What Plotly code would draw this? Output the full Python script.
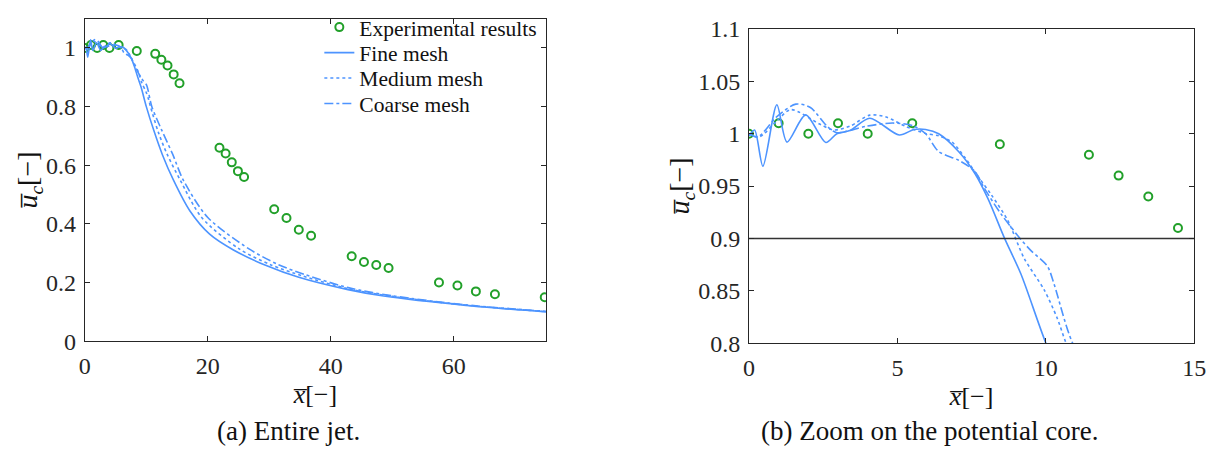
import plotly.graph_objects as go
from plotly.subplots import make_subplots

# ---------------- data ----------------
exp_x = [0, 1, 2, 3, 4, 5.5, 8.45, 11.45, 12.45, 13.45, 14.45, 15.4,
         21.9, 22.9, 23.9, 24.9, 25.9, 30.8, 32.8, 34.8, 36.8,
         43.4, 45.4, 47.4, 49.4, 57.6, 60.6, 63.6, 66.7, 74.8]
exp_y = [1.0, 1.01, 1.0, 1.01, 1.0, 1.01, 0.99, 0.98, 0.96, 0.94, 0.91, 0.88,
         0.66, 0.64, 0.61, 0.58, 0.56, 0.45, 0.42, 0.38, 0.36,
         0.29, 0.27, 0.26, 0.25, 0.20, 0.19, 0.17, 0.16, 0.15]

fine_x = [0, 0.19, 0.47, 0.94, 1.28, 1.91, 2.59, 2.96, 3.4, 4.07, 5.06, 5.56,
          5.95, 6.39, 7.06, 7.61, 8.05, 8.61, 9.16, 10.0, 11.2, 12.6, 14.4,
          17.1, 20.3, 24.1, 29.4, 34.8, 42.8, 48.6, 62.0, 75.0]
fine_y = [0.998, 1.0036, 0.969, 1.0277, 0.992, 1.018, 0.9916, 1.0, 1.003, 1.0148,
          0.9988, 1.004, 1.004, 1.0, 0.983, 0.962, 0.938, 0.9, 0.866, 0.8, 0.72,
          0.637, 0.55, 0.444, 0.365, 0.312, 0.259, 0.218, 0.176, 0.154, 0.122, 0.1]

med_x = [0, 0.35, 0.93, 1.41, 2.41, 2.85, 3.4, 4.07, 4.62, 5.28, 5.95, 6.39,
         6.84, 7.28, 7.72, 8.17, 8.72, 9.27, 9.94, 10.38, 10.68, 12.0, 13.4,
         15.5, 19.0, 25.1, 30.2, 35.5, 43.0, 50.0, 62.0, 75.0]
med_y = [1.0, 0.997, 1.012, 1.023, 1.0088, 1.0036, 1.0072, 1.0178, 1.016, 1.007,
         1.0003, 0.998, 0.992, 0.977, 0.959, 0.9414, 0.917, 0.881, 0.851, 0.824,
         0.8, 0.71, 0.637, 0.55, 0.422, 0.315, 0.261, 0.222, 0.178, 0.153, 0.123, 0.101]

coarse_x = [0, 0.3, 0.93, 1.58, 2.07, 2.63, 2.96, 3.96, 4.84, 5.51, 5.95, 6.39,
            7.06, 7.61, 7.94, 8.5, 9.16, 9.49, 10.05, 10.27, 10.9, 12.5, 14.3,
            16.0, 20.0, 26.7, 31.5, 36.0, 43.0, 50.0, 62.0, 75.0]
coarse_y = [1.0, 0.997, 1.016, 1.0283, 1.025, 1.0072, 1.001, 1.0072, 1.0102, 1.0078,
            1.0, 0.983, 0.9747, 0.964, 0.9473, 0.923, 0.899, 0.8886, 0.8736, 0.857,
            0.8, 0.72, 0.637, 0.55, 0.422, 0.315, 0.261, 0.226, 0.182, 0.155, 0.124, 0.102]

threshold = 0.9

left_yticks = [0, 0.2, 0.4, 0.6, 0.8, 1.0]
left_yticklabels = ["0", "0.2", "0.4", "0.6", "0.8", "1"]
left_xticks = [0, 20, 40, 60]
right_yticks = [0.8, 0.85, 0.9, 0.95, 1.0, 1.05, 1.1]
right_yticklabels = ["0.8", "0.85", "0.9", "0.95", "1", "1.05", "1.1"]
right_xticks = [0, 5, 10, 15]

# ---------------- styling ----------------
BLUE = "#4d94ff"
GREEN = "#22a02a"
AX = "#262626"
FONT = '"Liberation Serif", "Times New Roman", Times, serif'
W, H = 1228, 458

fig = make_subplots(rows=1, cols=2)

series = [
    ("Experimental results", exp_x, exp_y, None, "legend"),
    ("Fine mesh", fine_x, fine_y, "solid", "legend2"),
    ("Medium mesh", med_x, med_y, "dot", "legend3"),
    ("Coarse mesh", coarse_x, coarse_y, "dashdot", "legend4"),
]

for col, show in [(1, True), (2, False)]:
    for name, xs, ys, dash, lg in series:
        if dash is None:
            tr = go.Scatter(x=xs, y=ys, mode="markers", name=name,
                            marker=dict(symbol="circle-open", size=8, color=GREEN,
                                        line=dict(width=2, color=GREEN)),
                            showlegend=show, legend=lg)
        else:
            tr = go.Scatter(x=xs, y=ys, mode="lines", name=name,
                            line=dict(color=BLUE, width=1.6, dash=dash,
                                      shape="spline", smoothing=0.8),
                            showlegend=show, legend=lg)
        fig.add_trace(tr, row=1, col=col)

fig.add_trace(go.Scatter(x=[0, 15], y=[threshold, threshold], mode="lines",
                         line=dict(color="#333333", width=1.6), showlegend=False),
              row=1, col=2)

axis_common = dict(showline=True, linecolor=AX, linewidth=1, mirror="ticks",
                   ticks="inside", ticklen=5, tickcolor=AX, showgrid=False, zeroline=False,
                   ticklabelstandoff=3,
                   tickfont=dict(family=FONT, size=24, color=AX))

xlab = "<i>x\u0305</i>[\u2212]"
ylab = "<i>u\u0305</i><sub><i>c</i></sub>[\u2212]"
xtitle = dict(text=xlab, font=dict(family=FONT, size=26, color="#111111"), standoff=6)

fig.update_xaxes(range=[0, 75], tickvals=left_xticks, domain=[80/W, 548/W],
                 title=xtitle, **axis_common, row=1, col=1)
fig.update_yaxes(range=[0, 1.1], tickvals=left_yticks, ticktext=left_yticklabels,
                 domain=[1-348/H, 1-6/H], **axis_common, row=1, col=1)
fig.update_xaxes(range=[0, 15], tickvals=right_xticks, domain=[754/W, 1206/W],
                 title=xtitle, **axis_common, row=1, col=2)
fig.update_yaxes(range=[0.8, 1.1], tickvals=right_yticks, ticktext=right_yticklabels,
                 domain=[1-350/H, 1-17/H], **axis_common, row=1, col=2)

texts = [
    dict(x=24/W, y=1-177/H, text=ylab, size=28, angle=-90),
    dict(x=686/W, y=1-183/H, text=ylab, size=28, angle=-90),
    dict(x=287/W, y=1-443/H, text="(a) Entire jet.", size=27, angle=0),
    dict(x=937/W, y=1-443/H, text="(b) Zoom on the potential core.", size=27, angle=0),
]
for t in texts:
    fig.add_annotation(x=t["x"], y=t["y"], xref="paper", yref="paper", text=t["text"],
                       showarrow=False, xanchor="center", yanchor="middle",
                       textangle=t["angle"],
                       font=dict(family=FONT, size=t["size"], color="#111111"))

leg_font = dict(family=FONT, size=21.5, color="#111111")
leg_rows = [15, 42, 69, 96]
leg_common = dict(x=318/W, xanchor="left", yanchor="middle",
                  bgcolor="rgba(0,0,0,0)", font=leg_font, itemwidth=30)

fig.update_layout(
    width=W, height=H, margin=dict(l=0, r=0, t=0, b=0),
    plot_bgcolor="white", paper_bgcolor="white",
    font=dict(family=FONT),
    showlegend=True,
    legend=dict(y=1-leg_rows[0]/H, **leg_common),
    legend2=dict(y=1-leg_rows[1]/H, **leg_common),
    legend3=dict(y=1-leg_rows[2]/H, **leg_common),
    legend4=dict(y=1-leg_rows[3]/H, **leg_common),
)

fig.write_html("out.html")
